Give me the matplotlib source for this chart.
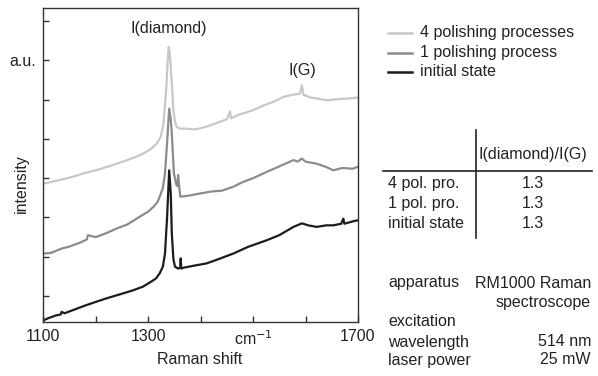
import matplotlib.pyplot as plt

plt.rcParams['font.family'] = ['Liberation Sans', 'DejaVu Sans']

# spectra (intensity in arbitrary units)
x_init = [1100, 1110, 1125, 1133, 1135, 1140, 1160, 1180, 1202, 1220, 1240, 1260,
          1272, 1290, 1305, 1315, 1322, 1328, 1332, 1336, 1340, 1343, 1345, 1348,
          1351, 1357, 1361, 1362, 1363, 1367, 1390, 1411, 1430, 1462, 1490, 1526,
          1550, 1577, 1593, 1605, 1621, 1640, 1653, 1668, 1672, 1674, 1690, 1700]
y_init = [-0.62, -0.56, -0.49, -0.47, -0.40, -0.44, -0.34, -0.24, -0.14, -0.06, 0.02, 0.10,
          0.15, 0.24, 0.36, 0.45, 0.58, 0.75, 1.08, 2.0, 3.2, 2.6, 1.6, 0.95,
          0.75, 0.70, 0.72, 0.96, 0.70, 0.72, 0.78, 0.83, 0.92, 1.08, 1.25, 1.42,
          1.55, 1.76, 1.85, 1.80, 1.76, 1.80, 1.80, 1.84, 1.97, 1.84, 1.90, 1.93]

x_one = [1100, 1115, 1135, 1150, 1170, 1183, 1185, 1200, 1220, 1240, 1260, 1284,
         1300, 1310, 1318, 1322, 1328, 1332, 1336, 1340, 1343, 1345, 1349, 1354,
         1356, 1357, 1359, 1361, 1375, 1399, 1420, 1440, 1462, 1480, 1500, 1526,
         1550, 1577, 1585, 1593, 1600, 1621, 1640, 1653, 1670, 1690, 1700]
y_one = [1.08, 1.10, 1.21, 1.26, 1.36, 1.44, 1.55, 1.50, 1.60, 1.72, 1.82, 2.02,
         2.15, 2.27, 2.40, 2.53, 2.75, 3.12, 3.90, 4.77, 4.50, 4.14, 3.12, 2.82,
         2.80, 3.08, 2.80, 2.53, 2.55, 2.61, 2.66, 2.68, 2.78, 2.90, 3.00, 3.16,
         3.30, 3.46, 3.42, 3.50, 3.42, 3.37, 3.28, 3.20, 3.26, 3.24, 3.29]

x_four = [1100, 1120, 1140, 1160, 1176, 1200, 1220, 1240, 1260, 1280, 1291, 1305,
          1316, 1324, 1329, 1332, 1335, 1337, 1339, 1341, 1343, 1346, 1348, 1351,
          1354, 1360, 1373, 1390, 1411, 1430, 1450, 1456, 1458, 1470, 1500, 1520,
          1540, 1558, 1575, 1589, 1593, 1596, 1610, 1621, 1640, 1653, 1675, 1700]
y_four = [2.86, 2.92, 2.98, 3.05, 3.12, 3.20, 3.28, 3.37, 3.46, 3.56, 3.63, 3.74,
          3.88, 4.05, 4.39, 4.85, 5.41, 5.95, 6.34, 6.20, 5.83, 5.20, 4.73, 4.45,
          4.31, 4.26, 4.26, 4.24, 4.31, 4.40, 4.50, 4.70, 4.52, 4.60, 4.73, 4.85,
          4.95, 5.07, 5.12, 5.15, 5.36, 5.12, 5.05, 5.03, 4.98, 5.00, 5.02, 5.05]

series_labels = ['4 polishing processes', '1 polishing process', 'initial state']
series_colors = ['#c8c8c8', '#8c8c8c', '#1c1c1c']

row_labels = ['4 pol. pro.', '1 pol. pro.', 'initial state']
ratio_values = ['1.3', '1.3', '1.3']

FS = 11.5
TC = '#222222'

W, H = 598, 376
fig = plt.figure(figsize=(W / 100, H / 100), dpi=100)
ax = fig.add_axes([43.3 / W, 1 - 322 / H, (358 - 43.3) / W, (322 - 8) / H])

ax.plot(x_four, y_four, color=series_colors[0], lw=1.6)
ax.plot(x_one, y_one, color=series_colors[1], lw=1.6)
ax.plot(x_init, y_init, color=series_colors[2], lw=1.6)

ax.set_xlim(1100, 1700)
ax.set_ylim(-0.66, 7.33)
ax.set_xticks([1100, 1200, 1300, 1400, 1500, 1600, 1700])
ax.set_xticklabels(['1100', '', '1300', '', 'cm$^{-1}$', '', '1700'])
ax.set_yticks(range(8))
ax.set_yticklabels(['', '', '', '', '', '', 'a.u.', ''])
ax.tick_params(direction='in', length=4, width=1, labelsize=FS, colors='#333333',
               labelcolor=TC, pad=5)
for s in ax.spines.values():
    s.set_color('#333333')
    s.set_linewidth(1)

ax.text(1339, 6.62, 'I(diamond)', ha='center', va='bottom', fontsize=FS, color=TC)
ax.text(1593, 5.55, 'I(G)', ha='center', va='bottom', fontsize=FS, color=TC)

def px(x, y):
    return x / W, 1 - y / H

fig.text(*px(200, 360), 'Raman shift', ha='center', va='center', fontsize=FS, color=TC)
fig.text(*px(21, 184), 'intensity', ha='center', va='center', rotation=90, fontsize=FS, color=TC)

# legend
for i, (lab, col) in enumerate(zip(series_labels, series_colors)):
    yy = 33 + i * 19.5
    fig.add_artist(plt.Line2D([388 / W, 412 / W], [1 - yy / H, 1 - yy / H], color=col, lw=1.8))
    fig.text(*px(420, yy), lab, ha='left', va='center', fontsize=FS, color=TC)

# ratio table
fig.add_artist(plt.Line2D([476 / W, 476 / W], [1 - 130 / H, 1 - 238 / H], color=TC, lw=1.2))
fig.add_artist(plt.Line2D([383 / W, 592 / W], [1 - 171 / H, 1 - 171 / H], color=TC, lw=1.2))
fig.text(*px(533, 155), 'I(diamond)/I(G)', ha='center', va='center', fontsize=FS, color=TC)
for i, (lab, val) in enumerate(zip(row_labels, ratio_values)):
    yy = 184 + i * 19.5
    fig.text(*px(388, yy), lab, ha='left', va='center', fontsize=FS, color=TC)
    fig.text(*px(533, yy), val, ha='center', va='center', fontsize=FS, color=TC)

# measurement conditions
fig.text(*px(388, 283), 'apparatus', ha='left', va='center', fontsize=FS, color=TC)
fig.text(*px(591, 283), 'RM1000 Raman', ha='right', va='center', fontsize=FS, color=TC)
fig.text(*px(591, 302), 'spectroscope', ha='right', va='center', fontsize=FS, color=TC)
fig.text(*px(388, 322), 'excitation', ha='left', va='center', fontsize=FS, color=TC)
fig.text(*px(388, 342), 'wavelength', ha='left', va='center', fontsize=FS, color=TC)
fig.text(*px(591, 342), '514 nm', ha='right', va='center', fontsize=FS, color=TC)
fig.text(*px(388, 360), 'laser power', ha='left', va='center', fontsize=FS, color=TC)
fig.text(*px(591, 360), '25 mW', ha='right', va='center', fontsize=FS, color=TC)

fig.savefig('out.png', dpi=100)
